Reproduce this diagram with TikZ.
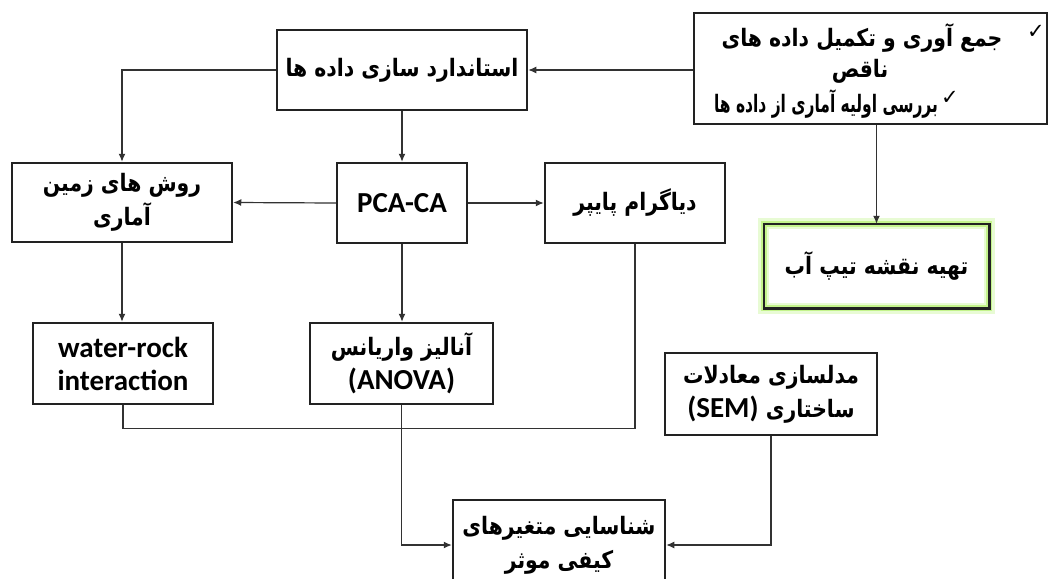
\documentclass[tikz,border=0pt]{standalone}
\usepackage{fontspec}
\usetikzlibrary{arrows.meta}
\TeXXeTstate=1
\newfontfamily\farsi[Script=Arabic, FakeStretch=0.85]{DejaVu Sans}
\newfontfamily\latin{Carlito}
\newfontfamily\sym{DejaVu Sans}
\newcommand\fa[1]{{\farsi\bfseries\beginR #1\endR}}
\newcommand\la[1]{{\latin\bfseries #1}}
\definecolor{boxc}{RGB}{34,34,34}
\definecolor{linec}{RGB}{50,50,50}
\definecolor{glowa}{RGB}{232,251,212}
\definecolor{glowb}{RGB}{196,244,140}
\begin{document}
\begin{tikzpicture}[x=1pt,y=-1pt,
  box/.style={draw=boxc, line width=2.5pt, fill=white, inner sep=0pt, align=center,
    font=\fontsize{24}{34}\selectfont},
  txt/.style={inner sep=0pt, font=\fontsize{24}{34}\selectfont},
  chkm/.style={inner sep=0pt, font=\sym\fontsize{21}{22}\selectfont},
  conn/.style={line width=1.2pt, draw=linec},
  arr/.style={conn, -{Latex[length=8pt,width=7pt]}}]
\fill[white] (0,0) rectangle (1048,578);
\useasboundingbox (0,0) rectangle (1048,578);

% boxes
\node[box, minimum width=353pt, minimum height=111pt] (chk) at (870.5,68.5) {};
\node[txt] (c1) at (862,38) {\fa{جمع آوری و تکمیل داده های}};
\node[txt] (c2) at (860,71) {\fa{ناقص}};
\node[txt] (c3) at (826,104) {\scalebox{0.76}[1]{\fa{بررسی اولیه آماری از داده ها}}};
\node[chkm] (m1) at (1036,32) {✓};
\node[chkm] (m3) at (950,98) {✓};

\node[box, minimum width=250pt, minimum height=80pt] (std) at (402,70) {\fa{استاندارد سازی داده ها}};
\node[box, minimum width=220pt, minimum height=79pt] (rav) at (122,202.5) {\fa{روش های زمین}\\\fa{آماری}};
\node[box, minimum width=130pt, minimum height=80pt, font=\latin\bfseries\fontsize{29}{33}\selectfont] (pca) at (402,203) {PCA-CA};
\node[box, minimum width=180pt, minimum height=80pt] (piper) at (635,203) {\fa{دیاگرام پایپر}};
\node[box, minimum width=223pt, minimum height=82pt] (map) at (876.5,266) {\fa{تهیه نقشه تیپ آب}};
\draw[glowa, line width=11pt] (map.south west) rectangle (map.north east);
\draw[glowb, line width=6pt] (map.south west) rectangle (map.north east);
\draw[boxc, line width=2.5pt] (map.south west) rectangle (map.north east);
\node[box, minimum width=180pt, minimum height=81pt, font=\latin\bfseries\fontsize{29}{33}\selectfont] (wr) at (123,363.5) {water-rock\\interaction};
\node[box, minimum width=183pt, minimum height=81pt] (anova) at (401.5,363.5) {\fa{آنالیز واریانس}\\\la{\fontsize{29}{33}\selectfont(ANOVA)}};
\node[box, minimum width=212pt, minimum height=82pt] (sem) at (771,394) {\fa{مدلسازی معادلات}\\\la{\fontsize{29}{33}\selectfont(SEM)}\ \fa{ساختاری}};
\node[box, minimum width=212pt, minimum height=90pt] (id) at (559,545) {\fa{شناسایی متغیرهای}\\\fa{کیفی موثر}};

% connectors
\draw[arr] (chk.west |- std.east) -- (std.east);
\draw[arr] (std.south) -- (pca.north);
\draw[arr] (std.west) -| (rav.north);
\draw[arr] (pca.west) -- (rav.east);
\draw[arr] (pca.east) -- (piper.west);
\draw[arr] (pca.south) -- (pca.south |- anova.north);
\draw[arr] (rav.south) -- (rav.south |- wr.north);
\draw[arr] (map.north |- chk.south) -- (map.north);
\draw[conn] (wr.south) -- ++(0,23) -| (piper.south);
\draw[arr] (anova.south) |- (id.west);
\draw[arr] (sem.south) |- (id.east);
\end{tikzpicture}
\end{document}
